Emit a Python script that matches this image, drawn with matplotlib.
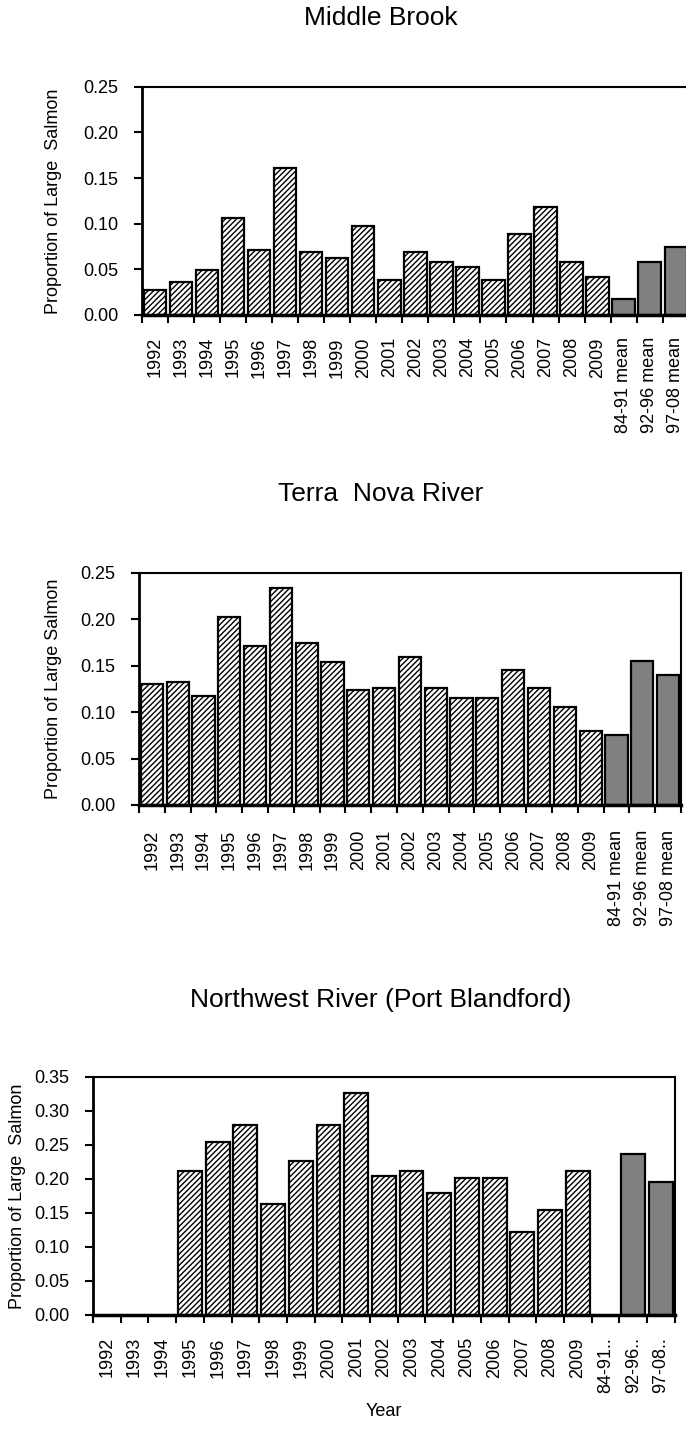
import matplotlib
matplotlib.use('Agg')
import numpy as np
import matplotlib.pyplot as plt

plt.rcParams['font.family'] = ['Liberation Sans', 'DejaVu Sans']
plt.rcParams['hatch.color'] = '#4a4a4a'
plt.rcParams['hatch.linewidth'] = 1.0

years = ['1992', '1993', '1994', '1995', '1996', '1997', '1998', '1999', '2000',
         '2001', '2002', '2003', '2004', '2005', '2006', '2007', '2008', '2009']
means_full = ['84-91 mean', '92-96 mean', '97-08 mean']
means_short = ['84-91..', '92-96..', '97-08..']

# proportion of large salmon, by year then the three period means
middle_brook = [0.027, 0.036, 0.049, 0.106, 0.071, 0.161, 0.069, 0.062, 0.098,
                0.038, 0.069, 0.058, 0.053, 0.038, 0.089, 0.118, 0.058, 0.042]
middle_brook_means = [0.018, 0.058, 0.075]

terra_nova = [0.130, 0.132, 0.117, 0.202, 0.171, 0.234, 0.174, 0.154, 0.124,
              0.126, 0.159, 0.126, 0.115, 0.115, 0.145, 0.126, 0.106, 0.080]
terra_nova_means = [0.075, 0.155, 0.140]

# no counts 1992-1994 and no 84-91 mean for Northwest River
northwest = [np.nan, np.nan, np.nan, 0.212, 0.254, 0.280, 0.163, 0.227, 0.280,
             0.327, 0.204, 0.212, 0.180, 0.201, 0.201, 0.122, 0.154, 0.212]
northwest_means = [np.nan, 0.236, 0.195]

fig = plt.figure(figsize=(6.86, 14.29), dpi=100)


def draw_panel(rect, title, title_y, vals, mvals, labels, ymax, ylab, ypad, xpad):
    ax = fig.add_axes(rect)
    n = len(vals)
    x = np.arange(n + len(mvals))
    ax.bar(x[:n], vals, width=0.86, color='white', edgecolor='black',
           linewidth=1.6, hatch='//////')
    ax.bar(x[n:], mvals, width=0.86, color='#808080', edgecolor='black',
           linewidth=1.6)
    ax.set_xlim(-0.5, len(x) - 0.5)
    ax.set_ylim(0, ymax)
    yt = np.arange(0, ymax + 0.001, 0.05)
    ax.set_yticks(yt)
    ax.set_yticklabels(['%.2f' % v for v in yt])
    # tick marks between categories, labels under the bars
    ax.set_xticks(np.arange(-0.5, len(x), 1.0))
    ax.set_xticklabels([])
    ax.set_xticks(x, minor=True)
    ax.set_xticklabels(labels, minor=True, rotation=90)
    ax.tick_params(axis='x', which='minor', length=0, pad=xpad, labelsize=13)
    ax.tick_params(axis='x', which='major', length=6, width=1.5, direction='out')
    ax.tick_params(axis='y', length=6, width=1.5, direction='out', labelsize=13,
                   pad=11)
    ax.set_ylabel(ylab, fontsize=13, labelpad=ypad)
    for side in ['top', 'right']:
        ax.spines[side].set_linewidth(1.5)
    ax.spines['left'].set_linewidth(2.0)
    ax.spines['bottom'].set_linewidth(2.5)
    fig.text(0.555, title_y, title, fontsize=19, ha='center', va='center')
    return ax


draw_panel([0.207, 0.7796, 0.797, 0.1596], 'Middle Brook', 1 - 18 / 1429,
           middle_brook, middle_brook_means, years + means_full, 0.25,
           'Proportion of Large  Salmon', 15, 16)
draw_panel([0.2026, 0.4367, 0.790, 0.1624], 'Terra  Nova River', 1 - 494 / 1429,
           terra_nova, terra_nova_means, years + means_full, 0.25,
           'Proportion of Large Salmon', 13, 18)
ax3 = draw_panel([0.1356, 0.0798, 0.848, 0.1666], 'Northwest River (Port Blandford)',
                 1 - 1000 / 1429, northwest, northwest_means, years + means_short, 0.35,
                 'Proportion of Large  Salmon', 6, 16)
ax3.set_xlabel('Year', fontsize=13)
ax3.xaxis.set_label_coords(0.5, -0.37)

fig.savefig('out.png', dpi=100)
